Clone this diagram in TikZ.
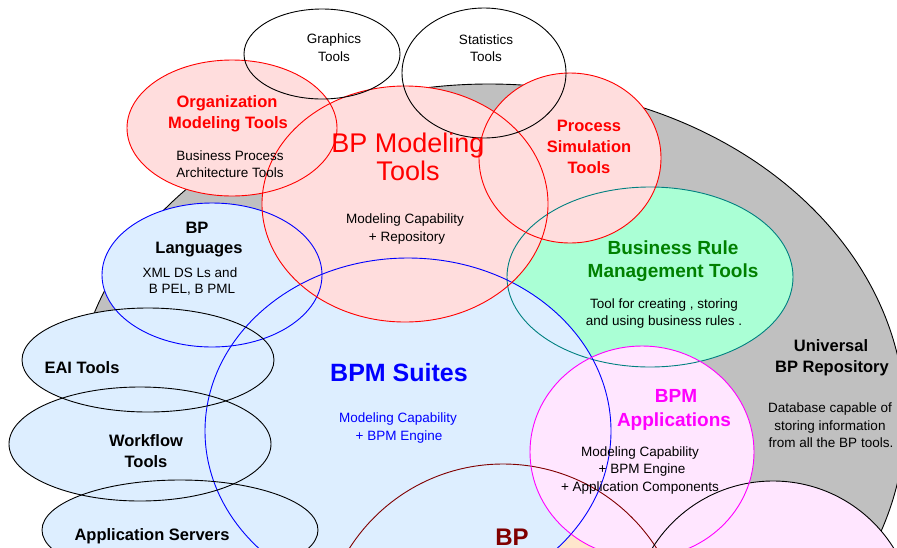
\documentclass[tikz,border=0pt]{standalone}
\usepackage{fontspec}
\setmainfont{Liberation Sans}
\definecolor{grayfill}{HTML}{C0C0C0}
\definecolor{pinkfill}{HTML}{FFDDDD}
\definecolor{bluefill}{HTML}{DDEEFF}
\definecolor{greenfill}{HTML}{AAFFD5}
\definecolor{magfill}{HTML}{FFE6FF}
\definecolor{peachfill}{HTML}{FFE6CC}
\definecolor{tealline}{HTML}{008080}
\definecolor{brownline}{HTML}{800000}
\definecolor{greentext}{HTML}{008000}
\definecolor{magline}{HTML}{FF00FF}
\definecolor{redline}{HTML}{FF0000}
\definecolor{blueline}{HTML}{0000FF}
\tikzset{
  shapeline/.style={line width=0.9pt},
  small/.style={font=\fontsize{13.5}{16}\selectfont, anchor=base, inner sep=0pt},
  lbl/.style={font=\fontsize{16.5}{19}\selectfont\bfseries, anchor=base, inner sep=0pt},
  midlbl/.style={font=\fontsize{19}{22}\selectfont\bfseries, anchor=base, inner sep=0pt},
  biglbl/.style={font=\fontsize{25}{28}\selectfont\bfseries, anchor=base, inner sep=0pt},
  hugelbl/.style={font=\fontsize{27}{30}\selectfont, anchor=base, inner sep=0pt},
}
\begin{document}
\begin{tikzpicture}[x=1pt,y=-1pt]
\useasboundingbox (0,0) rectangle (897,547);
\begin{scope}
\clip (0,0) rectangle (897,547);
% universal repository
\filldraw[fill=grayfill, draw=black, shapeline] (489,419) ellipse [x radius=416, y radius=335];
% fills
\fill[greenfill] (650,277) ellipse [x radius=143, y radius=90];
\fill[peachfill] (503,646) circle [radius=182];
\fill[bluefill] (408,431) ellipse [x radius=203, y radius=173];
\fill[bluefill] (212,275) ellipse [x radius=110, y radius=72];
\fill[bluefill] (148,360) ellipse [x radius=126, y radius=52];
\fill[bluefill] (140,444) ellipse [x radius=131, y radius=57];
\fill[bluefill] (180,530) ellipse [x radius=138, y radius=50];
\fill[magfill] (773,623) circle [radius=142];
\fill[magfill] (642,452) ellipse [x radius=112, y radius=106];
\fill[pinkfill] (405,204) ellipse [x radius=143, y radius=118];
\fill[pinkfill] (232,128) ellipse [x radius=105, y radius=68];
\fill[pinkfill] (570,158) ellipse [x radius=91, y radius=85];
% outlines
\draw[shapeline, tealline] (650,277) ellipse [x radius=143, y radius=90];
\draw[shapeline, brownline] (503,646) circle [radius=182];
\draw[shapeline, blueline] (408,431) ellipse [x radius=203, y radius=173];
\draw[shapeline, blueline] (212,275) ellipse [x radius=110, y radius=72];
\draw[shapeline, black] (148,360) ellipse [x radius=126, y radius=52];
\draw[shapeline, black] (140,444) ellipse [x radius=131, y radius=57];
\draw[shapeline, black] (180,530) ellipse [x radius=138, y radius=50];
\draw[shapeline, black] (773,623) circle [radius=142];
\draw[shapeline, magline] (642,452) ellipse [x radius=112, y radius=106];
\draw[shapeline, redline] (405,204) ellipse [x radius=143, y radius=118];
\draw[shapeline, redline] (232,128) ellipse [x radius=105, y radius=68];
\draw[shapeline, redline] (570,158) ellipse [x radius=91, y radius=85];
\draw[shapeline, black] (322,54) ellipse [x radius=78, y radius=45];
\draw[shapeline, black] (484,73) ellipse [x radius=82, y radius=65];
\end{scope}
% texts
\node[small] (gt1) at (334,43) {Graphics};
\node[small] (gt2) at (334,61) {Tools};
\node[small] (st1) at (486,44) {Statistics};
\node[small] (st2) at (486,61) {Tools};
\node[lbl, redline] (om1) at (227,107) {Organization};
\node[lbl, redline] (om2) at (228,128) {Modeling Tools};
\node[small] (om3) at (230,160) {Business Process};
\node[small] (om4) at (230,177) {Architecture Tools};
\node[hugelbl, redline] (bm1) at (408,152) {BP Modeling};
\node[hugelbl, redline] (bm2) at (408,180) {Tools};
\node[small] (bm3) at (405,223) {Modeling Capability};
\node[small] (bm4) at (407,241) {+ Repository};
\node[lbl, redline] (ps1) at (589,131) {Process};
\node[lbl, redline] (ps2) at (589,152) {Simulation};
\node[lbl, redline] (ps3) at (589,173) {Tools};
\node[midlbl, greentext] (br1) at (673,254) {Business Rule};
\node[midlbl, greentext] (br2) at (673,277) {Management Tools};
\node[small] (br3) at (664,308) {Tool for creating , storing};
\node[small] (br4) at (664,325) {and using business rules .};
\node[lbl] (bl1) at (197,233) {BP};
\node[lbl] (bl2) at (199,253) {Languages};
\node[small] (bl3) at (190,277) {XML DS Ls and};
\node[small] (bl4) at (192,293) {B PEL, B PML};
\node[lbl] (eai) at (82,373) {EAI Tools};
\node[lbl] (wf1) at (146,446) {Workflow};
\node[lbl] (wf2) at (146,467) {Tools};
\node[lbl] (as) at (152,540) {Application Servers};
\node[biglbl, blueline] (su1) at (399,381) {BPM Suites};
\node[small, blueline] (su2) at (398,422) {Modeling Capability};
\node[small, blueline] (su3) at (399,440) {+ BPM Engine};
\node[midlbl, magline] (ap1) at (676,402) {BPM};
\node[midlbl, magline] (ap2) at (674,426) {Applications};
\node[small] (ap3) at (640,456) {Modeling Capability};
\node[small] (ap4) at (642,473) {+ BPM Engine};
\node[small] (ap5) at (640,491) {+ Application Components};
\node[lbl] (ur1) at (831,351) {Universal};
\node[lbl] (ur2) at (832,372) {BP Repository};
\node[small] (ur3) at (830,412) {Database capable of};
\node[small] (ur4) at (830,430) {storing information};
\node[small] (ur5) at (831,447) {from all the BP tools.};
\node[font=\fontsize{24}{28}\selectfont\bfseries, anchor=base, inner sep=0pt, brownline] (bp) at (512,545) {BP};
\end{tikzpicture}
\end{document}
